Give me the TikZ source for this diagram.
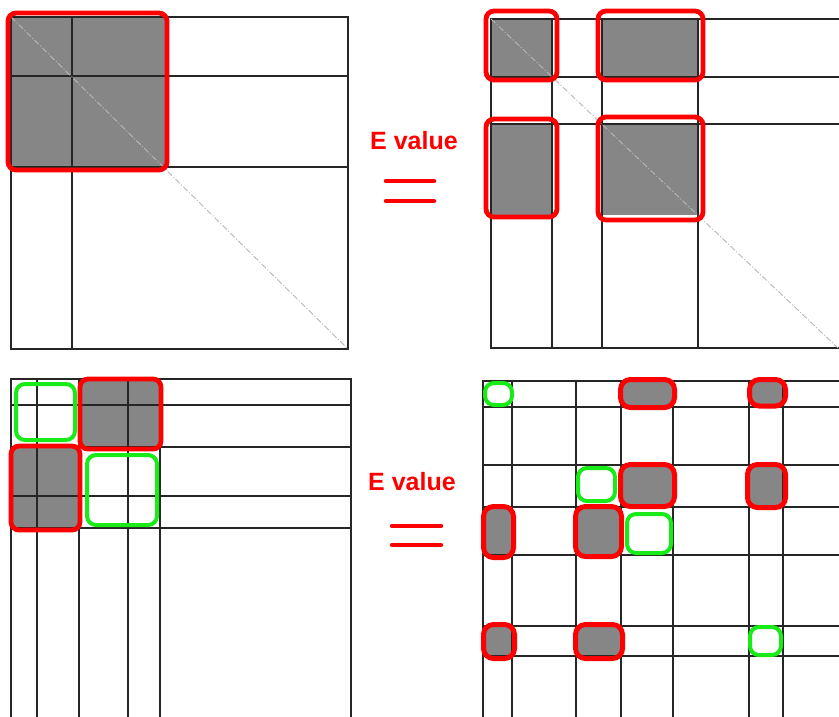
\documentclass[tikz,border=0pt]{standalone}
\usepackage{fontspec}
\setmainfont{Liberation Sans}
\definecolor{hlgreen}{RGB}{25,235,25}
\definecolor{blockgray}{RGB}{134,134,134}
\begin{document}
\begin{tikzpicture}[x=1pt,y=-1pt,
  gridline/.style={draw=black!85, line width=1.2pt},
  diagline/.style={draw=black!28, line width=0.9pt, dash pattern=on 6pt off 2pt on 1pt off 2pt},
  blockfill/.style={fill=blockgray},
  roundfill/.style={fill=blockgray, rounded corners=9pt},
  redbox/.style={draw=red, line width=4.8pt, rounded corners=8pt},
  smallred/.style={draw=red, line width=5pt, rounded corners=10pt},
  greenbox/.style={draw=hlgreen, line width=4pt, rounded corners=9pt},
  evalue/.style={text=red, inner sep=0pt, font=\fontsize{25}{25}\selectfont\bfseries},
  eqbar/.style={draw=red, line width=4.5pt, line cap=round}]
\useasboundingbox (0,0) rectangle (839,716);
\clip (0,0) rectangle (839,716);
\fill[white] (0,0) rectangle (839,716);

% ---- upper left matrix ----
\fill[blockfill] (11,17) rectangle (165,167);
\draw[gridline] (11,17) rectangle (348,349);
\draw[gridline] (72,17) -- (72,349);
\foreach \y in {76,167} \draw[gridline] (11,\y) -- (348,\y);
\draw[diagline] (11,17) -- (348,349);
\draw[redbox] (8,13) rectangle (167,170);

% ---- upper right matrix ----
\fill[blockfill] (491,19) rectangle (552,77);
\fill[blockfill] (602,19) rectangle (698,77);
\fill[blockfill] (491,124) rectangle (552,215);
\fill[blockfill] (602,124) rectangle (698,215);
\draw[gridline] (491,19) rectangle (850,348);
\foreach \x in {552,602,698} \draw[gridline] (\x,19) -- (\x,348);
\foreach \y in {77,124} \draw[gridline] (491,\y) -- (850,\y);
\draw[diagline] (491,19) -- (838,348);
\draw[redbox] (486,11) rectangle (557,80);
\draw[redbox] (598,11) rectangle (703,80);
\draw[redbox] (486,119) rectangle (557,217);
\draw[redbox] (598,117) rectangle (703,220);

% ---- E value labels ----
\node[evalue] (eTop) at (414,141) {E value};
\draw[eqbar] (386,181) -- (434,181);
\draw[eqbar] (386,201) -- (434,201);

\node[evalue] (eBottom) at (412,482) {E value};
\draw[eqbar] (392,526) -- (441,526);
\draw[eqbar] (392,545) -- (441,545);

% ---- lower left matrix ----
\fill[roundfill] (80,379) rectangle (161,449);
\fill[roundfill] (11,446) rectangle (80,530);
\draw[gridline] (11,379) rectangle (351,730);
\foreach \x in {37,79,128,160} \draw[gridline] (\x,379) -- (\x,730);
\foreach \y in {405,447,496,528} \draw[gridline] (11,\y) -- (351,\y);
\draw[redbox] (80,379) rectangle (161,449);
\draw[redbox] (11,446) rectangle (80,530);
\draw[greenbox] (16,384) rectangle (75,440);
\draw[greenbox] (87,455) rectangle (157,525);

% ---- lower right matrix ----
\fill[roundfill] (620.5,379.5) rectangle (674.5,407.5);
\fill[roundfill] (749.5,379.5) rectangle (785.5,406);
\fill[roundfill] (620.5,464.5) rectangle (674.5,506.5);
\fill[roundfill] (747.5,464.5) rectangle (785.5,507.5);
\fill[roundfill] (483.5,506.5) rectangle (513.5,557.5);
\fill[roundfill] (575.5,506.5) rectangle (621.5,556.5);
\fill[roundfill] (483.5,624.5) rectangle (514.5,658.5);
\fill[roundfill] (575.5,624.5) rectangle (622.5,658.5);
\draw[gridline] (483,381) rectangle (850,730);
\foreach \x in {512,576,621,673,749,783} \draw[gridline] (\x,381) -- (\x,730);
\foreach \y in {407,465,507,555,626,656} \draw[gridline] (483,\y) -- (850,\y);
\draw[smallred] (620.5,379.5) rectangle (674.5,407.5);
\draw[smallred] (749.5,379.5) rectangle (785.5,406);
\draw[smallred] (620.5,464.5) rectangle (674.5,506.5);
\draw[smallred] (747.5,464.5) rectangle (785.5,507.5);
\draw[smallred] (483.5,506.5) rectangle (513.5,557.5);
\draw[smallred] (575.5,506.5) rectangle (621.5,556.5);
\draw[smallred] (483.5,624.5) rectangle (514.5,658.5);
\draw[smallred] (575.5,624.5) rectangle (622.5,658.5);
\draw[greenbox] (485,383) rectangle (512,405);
\draw[greenbox] (578,468) rectangle (615,501);
\draw[greenbox] (627,514) rectangle (671,553);
\draw[greenbox] (750,627) rectangle (781,655);
\end{tikzpicture}
\end{document}
